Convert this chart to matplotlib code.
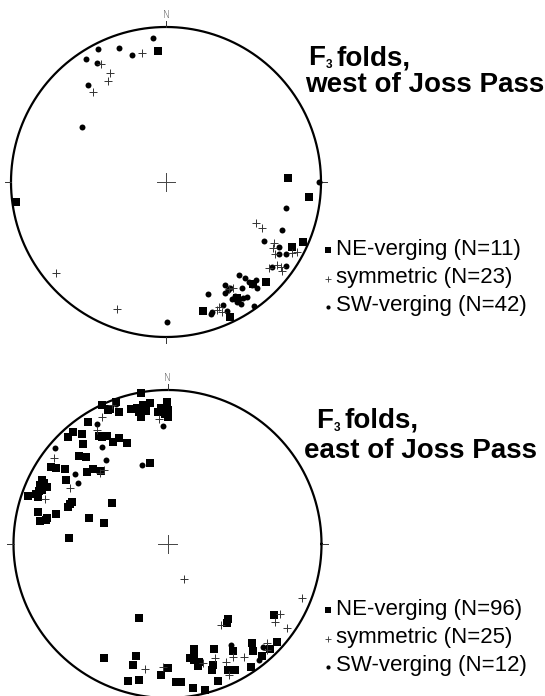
import numpy as np
import matplotlib
matplotlib.use("Agg")
import matplotlib.pyplot as plt

plt.rcParams['font.family'] = ['Liberation Sans', 'DejaVu Sans']

# ---------------- data: projected positions on the unit (equal-area) net ----------------
# East (x) and North (y) coordinates, net radius = 1
# West of Joss Pass
west_ne_x = [-0.050, 0.790, 0.925, -0.970, 0.882, 0.811, 0.645, 0.563, 0.456, 0.241, 0.413]
west_ne_y = [0.843, 0.029, -0.099, -0.129, -0.389, -0.417, -0.645, -0.658, -0.750, -0.832, -0.869]

west_sym_x = [-0.153, -0.419, -0.363, -0.376, -0.471, -0.710, -0.318,
              0.581, 0.617, 0.699, 0.703, 0.811, 0.843, 0.665, 0.714, 0.740, 0.750,
              0.434, 0.342, 0.327, 0.359, 0.406, 0.690]
west_sym_y = [0.834, 0.759, 0.701, 0.650, 0.579, -0.589, -0.821,
              -0.266, -0.295, -0.395, -0.466, -0.460, -0.454, -0.553, -0.535, -0.546, -0.572,
              -0.682, -0.805, -0.826, -0.841, -0.690, -0.426]

west_sw_x = [-0.084, -0.441, -0.301, -0.221, -0.516, -0.445, -0.505, -0.540, 0.005, 0.984,
             0.774, 0.750, 0.634, 0.729, 0.729, 0.772, 0.686, 0.774, 0.473, 0.510,
             0.579, 0.553, 0.589, 0.381, 0.402, 0.488, 0.269, 0.381, 0.445, 0.471,
             0.456, 0.499, 0.521, 0.370, 0.570, 0.299, 0.290, 0.392, 0.426, 0.481,
             0.535, 0.413]
west_sw_y = [0.932, 0.858, 0.866, 0.817, 0.794, 0.770, 0.626, 0.353, -0.901, -0.003,
             -0.170, -0.308, -0.379, -0.419, -0.465, -0.465, -0.550, -0.542, -0.600, -0.621,
             -0.632, -0.665, -0.686, -0.665, -0.697, -0.686, -0.723, -0.718, -0.735, -0.755,
             -0.772, -0.746, -0.740, -0.794, -0.798, -0.841, -0.854, -0.832, -0.755, -0.787,
             -0.645, -0.681]

# East of Joss Pass
east_ne_x = [-0.174, -0.423, -0.336, -0.388, -0.313, -0.237, -0.200, -0.161, -0.172, -0.114,
             -0.140, -0.001, -0.060, 0.001, 0.005, -0.514, -0.616, -0.648, -0.557, -0.547,
             -0.423, -0.395, -0.352, -0.315, -0.265, -0.575, -0.529, -0.756, -0.726, -0.666,
             -0.525, -0.486, -0.432, -0.661, -0.817, -0.828, -0.784, -0.834, -0.904, -0.839,
             -0.644, -0.618, -0.362, -0.843, -0.724, -0.828, -0.791, -0.510, -0.412, -0.640,
             -0.114, -0.188, -0.156, -0.373, -0.445, -0.802, -0.815, -0.854, -0.633, -0.781,
             -0.045, -0.016,
             -0.183, -0.412, -0.205, -0.222, -0.255, -0.185, -0.044, 0.001, 0.055, 0.086,
             0.168, 0.244, 0.172, 0.146, 0.174, 0.206, 0.200, 0.304, 0.294, 0.287,
             0.330, 0.391, 0.384, 0.395, 0.438, 0.427, 0.551, 0.553, 0.542, 0.616,
             0.666, 0.709, 0.694, 0.172]
east_ne_y = [0.979, 0.903, 0.924, 0.870, 0.855, 0.877, 0.885, 0.877, 0.827, 0.918,
             0.866, 0.924, 0.859, 0.870, 0.827, 0.794, 0.729, 0.693, 0.712, 0.649,
             0.693, 0.703, 0.660, 0.690, 0.654, 0.573, 0.567, 0.502, 0.492, 0.487,
             0.469, 0.485, 0.474, 0.416, 0.416, 0.383, 0.372, 0.344, 0.314, 0.307,
             0.242, 0.271, 0.264, 0.210, 0.195, 0.149, 0.156, 0.167, 0.138, 0.037,
             0.528, 0.857, 0.903, 0.877, 0.701, 0.396, 0.351, 0.325, 0.260, 0.169,
             0.883, 0.844,
             -0.482, -0.738, -0.725, -0.786, -0.888, -0.883, -0.851, -0.803, -0.894, -0.898,
             -0.933, -0.948, -0.684, -0.742, -0.753, -0.764, -0.792, -0.682, -0.786, -0.818,
             -0.890, -0.489, -0.515, -0.818, -0.818, -0.695, -0.645, -0.695, -0.797, -0.727,
             -0.684, -0.634, -0.461, -0.721]

east_sym_x = [-0.427, -0.460, -0.735, -0.633, -0.795, -0.053, -0.438, 0.107,
              0.871, 0.731, 0.698, 0.778, 0.345, 0.644, 0.427, 0.380, 0.308, 0.401,
              -0.146, -0.027, 0.497, 0.231, 0.644, -0.360, -0.412]
east_sym_y = [0.823, 0.740, 0.556, 0.366, 0.292, 0.812, 0.459, -0.229,
              -0.353, -0.455, -0.505, -0.547, -0.526, -0.641, -0.732, -0.768, -0.742, -0.851,
              -0.814, -0.801, -0.734, -0.773, -0.688, 0.903, 0.481]

east_sw_x = [-0.456, -0.027, -0.731, -0.423, -0.401, -0.601, -0.583, -0.164, -0.336,
             0.412, 0.622, 0.596]
east_sw_y = [0.779, 0.766, 0.621, 0.632, 0.545, 0.453, 0.398, 0.513, 0.909,
             -0.656, -0.667, -0.753]

title_fold = ["F", "3", "folds,"]
title_second = ["west of Joss Pass", "east of Joss Pass"]
legend_labels = [
    ["NE-verging (N=11)", "symmetric (N=23)", "SW-verging (N=42)"],
    ["NE-verging (N=96)", "symmetric (N=25)", "SW-verging (N=12)"],
]

# ---------------- figure ----------------
W, H = 545, 696
fig = plt.figure(figsize=(W / 100, H / 100), dpi=100)
fig.patch.set_facecolor('white')

nets = [
    dict(cx=166.0, cy=182.0, R=155.0,
         ne=(west_ne_x, west_ne_y), sym=(west_sym_x, west_sym_y), sw=(west_sw_x, west_sw_y)),
    dict(cx=167.5, cy=544.0, R=154.0,
         ne=(east_ne_x, east_ne_y), sym=(east_sym_x, east_sym_y), sw=(east_sw_x, east_sw_y)),
]

ext = 1.12
for net in nets:
    cx, cy, R = net['cx'], net['cy'], net['R']
    ax = fig.add_axes([(cx - ext * R) / W, (H - cy - ext * R) / H,
                       2 * ext * R / W, 2 * ext * R / H])
    ax.set_xlim(-ext, ext)
    ax.set_ylim(-ext, ext)
    ax.set_aspect('equal')
    ax.axis('off')
    t = np.linspace(0, 2 * np.pi, 721)
    ax.plot(np.cos(t), np.sin(t), color='black', lw=1.6, clip_on=False, zorder=2)
    # cardinal ticks
    for a in [0, 90, 180, 270]:
        r = np.deg2rad(a)
        ax.plot([np.cos(r), 1.04 * np.cos(r)], [np.sin(r), 1.04 * np.sin(r)],
                color='#333333', lw=0.7, clip_on=False)
    # centre cross
    ax.plot([-0.06, 0.06], [0, 0], color='#444444', lw=0.7)
    ax.plot([0, 0], [-0.06, 0.06], color='#444444', lw=0.7)
    ax.text(0, 1.075, "N", ha='center', va='center', fontsize=7, color='#555555',
            family='DejaVu Sans', fontweight='light')
    # data
    ax.plot(net['ne'][0], net['ne'][1], 's', color='black', ms=6.3, mec='black', mew=0,
            ls='none', zorder=3, clip_on=False)
    ax.plot(net['sw'][0], net['sw'][1], 'o', color='black', ms=4.3, mew=0,
            ls='none', zorder=4, clip_on=False)
    ax.plot(net['sym'][0], net['sym'][1], '+', color='#333333', ms=6.0, mew=0.7,
            ls='none', zorder=5, clip_on=False)

# ---------------- titles and legends ----------------
def fx(px):
    return px / W

def fy(py):
    return 1 - py / H

title_pos = [((308, 65), (305, 91.5)), ((316, 428), (304, 458))]
legend_y = [[249, 277.5, 306], [609, 637.5, 665.5]]

for i in range(2):
    (x1, y1), (x2, y2) = title_pos[i]
    fig.text(fx(x1), fy(y1), title_fold[0], fontsize=20, fontweight='bold',
             ha='left', va='baseline', color='black')
    fig.text(fx(x1 + 17.5), fy(y1 + 3), title_fold[1], fontsize=8.5, fontweight='bold',
             ha='left', va='baseline', color='black')
    fig.text(fx(x1 + 28.5), fy(y1), title_fold[2], fontsize=20, fontweight='bold',
             ha='left', va='baseline', color='black')
    fig.text(fx(x2), fy(y2), title_second[i], fontsize=20, fontweight='bold',
             ha='left', va='baseline', color='black')
    markers = [('s', 4.5, 0), ('+', 5.0, 0.6), ('o', 3.0, 0)]
    axl = fig.add_axes([0, 0, 1, 1], facecolor='none')
    axl.set_xlim(0, W)
    axl.set_ylim(H, 0)
    axl.axis('off')
    for j, lab in enumerate(legend_labels[i]):
        yy = legend_y[i][j]
        m, ms, mew = markers[j]
        axl.plot([328], [yy + 1], m, color='black' if m != '+' else '#333333',
                 ms=ms, mew=mew, ls='none')
        axl.text(336, yy, lab, fontsize=16, ha='left', va='center', color='black')

fig.savefig("out.png", dpi=100, facecolor='white')
